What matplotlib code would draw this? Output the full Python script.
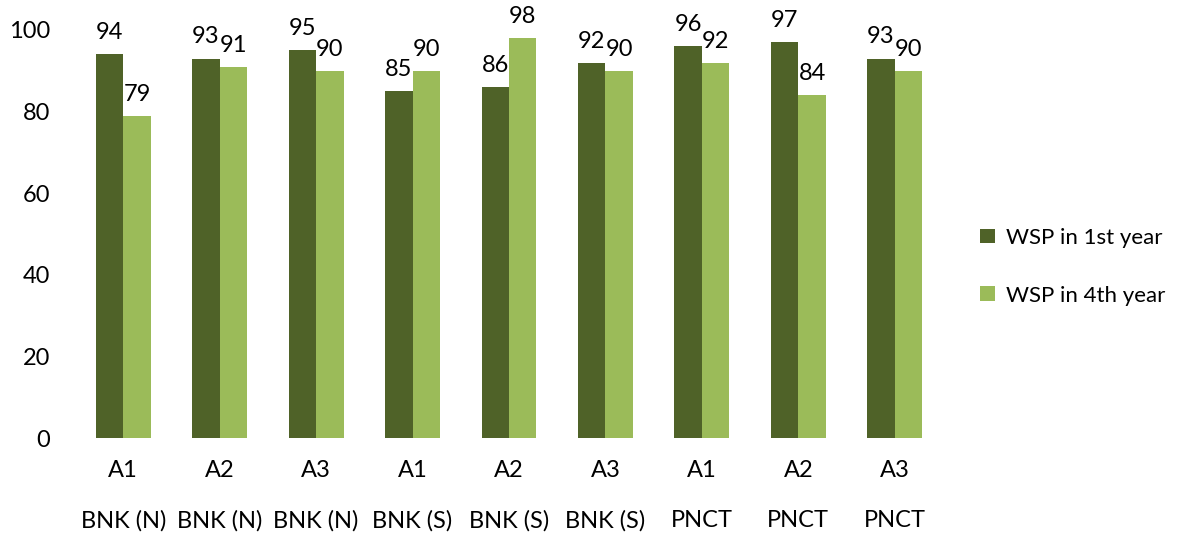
import numpy as np
import matplotlib.pyplot as plt

# data
sites = ['A1', 'A2', 'A3', 'A1', 'A2', 'A3', 'A1', 'A2', 'A3']
areas = ['BNK (N)', 'BNK (N)', 'BNK (N)', 'BNK (S)', 'BNK (S)', 'BNK (S)', 'PNCT', 'PNCT', 'PNCT']
wsp_1st = [94, 93, 95, 85, 86, 92, 96, 97, 93]
wsp_4th = [79, 91, 90, 90, 98, 90, 92, 84, 90]

plt.rcParams['font.family'] = ['Lato', 'DejaVu Sans']

fig = plt.figure(figsize=(11.83, 5.35), dpi=100)
ax = fig.add_axes([0.0634, 0.181, 0.7337, 0.763])

x = np.arange(len(sites))
w = 0.285
b1 = ax.bar(x - w / 2, wsp_1st, w, color='#4F6228', label='WSP in 1st year')
b2 = ax.bar(x + w / 2, wsp_4th, w, color='#9BBB59', label='WSP in 4th year')

for bars in (b1, b2):
    for r in bars:
        ax.annotate(f'{r.get_height():.0f}', (r.get_x() + r.get_width() / 2, r.get_height()),
                    xytext=(0, 8), textcoords='offset points', ha='center', va='bottom', fontsize=17)

ax.set_xlim(-0.5, len(sites) - 0.5)
ax.set_ylim(0, 100)
ax.set_yticks([0, 20, 40, 60, 80, 100])
ax.tick_params(axis='y', length=0, labelsize=17, pad=18)
ax.set_xticks(x)
ax.set_xticklabels([f'{s}\n\n{a}' for s, a in zip(sites, areas)], fontsize=17, linespacing=1.22)
ax.tick_params(axis='x', length=0, pad=16)
for sp in ax.spines.values():
    sp.set_visible(False)

ax.legend(loc='center left', bbox_to_anchor=(1.02, 0.42), frameon=False, fontsize=16,
          handlelength=0.65, handleheight=0.65, handletextpad=0.5, labelspacing=1.7)

fig.savefig('out.png', dpi=100)
